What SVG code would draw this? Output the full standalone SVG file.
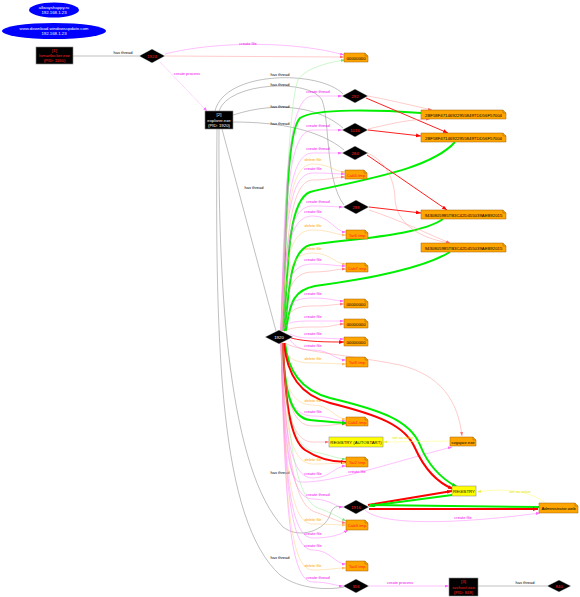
<svg xmlns="http://www.w3.org/2000/svg" width="580" height="597" viewBox="0 0 580 597" font-family="'Liberation Sans', Arial, sans-serif">
<style>
text{font-family:'Liberation Sans',Arial,sans-serif;text-anchor:middle}
.nt{font-size:4.3px}
.el{font-size:4px}
.e{fill:none;stroke-width:0.5}
.hs{stroke:#808080}
.cf{stroke:#ff80ff}
.df{stroke:#ffcc80}
.lr{stroke:#ff9999}
.rd{stroke:#ff0000;stroke-width:2}
.rm{stroke:#ff2020;stroke-width:1}
.gr{stroke:#00ee00;stroke-width:2}
.lg{stroke:#99ee99}
.yl{stroke:#ffff66}
.lhs{fill:#000}
.lcf{fill:#ee00ee}
.ldf{fill:#ffa500}
.lyl{fill:#e6e600}
.file{fill:#ffa500;stroke:#a0600a;stroke-width:0.5}
.fold{fill:none;stroke:#a0600a;stroke-width:0.5}
.reg{fill:#ffff00;stroke:#808080;stroke-width:0.5}
.proc{fill:#000;stroke:#888;stroke-width:0.6}
.thr{fill:#000;stroke:#fff;stroke-width:0.4}
.host{fill:#0000ff}
</style>
<defs>
<marker id="am" viewBox="0 0 4 3" refX="4" refY="1.5" markerWidth="4" markerHeight="3" markerUnits="userSpaceOnUse" orient="auto"><path d="M0,0L4,1.5L0,3z" fill="#ff66ff"/></marker>
<marker id="ao" viewBox="0 0 4 3" refX="4" refY="1.5" markerWidth="4" markerHeight="3" markerUnits="userSpaceOnUse" orient="auto"><path d="M0,0L4,1.5L0,3z" fill="#ffbb66"/></marker>
<marker id="alr" viewBox="0 0 4 3" refX="4" refY="1.5" markerWidth="4" markerHeight="3" markerUnits="userSpaceOnUse" orient="auto"><path d="M0,0L4,1.5L0,3z" fill="#ff7070"/></marker>
<marker id="ar" viewBox="0 0 4 3" refX="4" refY="1.5" markerWidth="5" markerHeight="4" markerUnits="userSpaceOnUse" orient="auto"><path d="M0,0L4,1.5L0,3z" fill="#ff0000"/></marker>
<marker id="ag" viewBox="0 0 4 3" refX="4" refY="1.5" markerWidth="5" markerHeight="4" markerUnits="userSpaceOnUse" orient="auto"><path d="M0,0L4,1.5L0,3z" fill="#00dd00"/></marker>
<marker id="alg" viewBox="0 0 4 3" refX="4" refY="1.5" markerWidth="4" markerHeight="3" markerUnits="userSpaceOnUse" orient="auto"><path d="M0,0L4,1.5L0,3z" fill="#77dd77"/></marker>
<marker id="ay" viewBox="0 0 4 3" refX="4" refY="1.5" markerWidth="4" markerHeight="3" markerUnits="userSpaceOnUse" orient="auto"><path d="M0,0L4,1.5L0,3z" fill="#eeee44"/></marker>
</defs>
<rect width="580" height="597" fill="#fff"/>

<g id="connectors">
<path class="e hs" d="M73,56 L139,56"/>
<text class="el lhs" x="123" y="54">has thread</text>
<path class="e cf" d="M165,54 C220,40 300,42 344,55" marker-end="url(#am)"/>
<text class="el lcf" x="248" y="45">create file</text>
<path class="e lr" d="M165,56 L344,57" marker-end="url(#alr)"/>
<path class="e cf" stroke-dasharray="1,0.6" d="M160,62 L207,111" marker-end="url(#am)"/>
<text class="el lcf" x="187" y="75">create process</text>

<path class="e hs" d="M215,111 C225,70 320,70 343,94"/>
<text class="el lhs" x="280" y="76">has thread</text>
<path class="e hs" d="M219,111 C228,82 310,78 322,100 C330,120 325,180 344,205"/>
<text class="el lhs" x="280" y="86">has thread</text>
<path class="e hs" d="M233,115 C280,100 320,108 343,128"/>
<text class="el lhs" x="280" y="108">has thread</text>
<path class="e hs" d="M233,122 C280,122 320,130 344,150"/>
<text class="el lhs" x="280" y="125">has thread</text>
<path class="e hs" d="M222,129 L276,331"/>
<text class="el lhs" x="254" y="189">has thread</text>
<path class="e hs" d="M219,129 C218,300 230,470 283,527 C300,540 325,530 330,515 C333,505 338,506 343,507"/>
<text class="el lhs" x="280" y="474">has thread</text>
<path class="e hs" d="M217,129 C215,350 220,520 280,575 C300,590 330,590 344,587"/>
<text class="el lhs" x="280" y="559">has thread</text>

<path class="e gr" d="M283,331 C286,200 288,130 300,118 C315,108 380,110 421,113"/>
<path class="e gr" d="M284,331 C288,250 290,200 310,192 C360,180 430,170 455,142"/>
<path class="e gr" d="M285,331 C289,280 292,250 310,245 C360,238 420,235 443,219"/>
<path class="e gr" d="M286,331 C290,300 295,290 315,286 C360,280 420,270 450,252"/>
<path class="e lg" d="M282,331 C285,200 290,100 298,80 C305,68 330,62 345,60" marker-end="url(#alg)"/>

<path class="e cf" d="M281,331 C285,164 290,96 313,96 C330,96 335,96 342,96" marker-end="url(#am)"/>
<text class="el lcf" x="318" y="93">create thread</text>
<path class="e cf" d="M281,331 C285,188 290,130 313,130 C330,130 335,130 342,130" marker-end="url(#am)"/>
<text class="el lcf" x="318" y="127">create thread</text>
<path class="e cf" d="M281,331 C285,204 290,153 313,153 C330,153 335,153 342,153" marker-end="url(#am)"/>
<text class="el lcf" x="318" y="150">create thread</text>
<path class="e df" d="M281,331 C285,212 290,164 313,164 C330,164 335,172 345,172" marker-end="url(#ao)"/>
<text class="el ldf" x="313" y="161">delete file</text>
<path class="e cf" d="M281,331 C285,218 290,173 313,173 C330,173 335,174 345,174" marker-end="url(#am)"/>
<text class="el lcf" x="313" y="170">create file</text>
<path class="e lr" d="M282,331 C286,230 292,180 313,180 C330,180 335,177 345,177" marker-end="url(#alr)"/>
<path class="e cf" d="M281,331 C285,241 290,206 313,206 C330,206 335,207 343,207" marker-end="url(#am)"/>
<text class="el lcf" x="318" y="203">create thread</text>
<path class="e cf" d="M281,331 C285,248 290,216 313,216 C330,216 335,232 346,232" marker-end="url(#am)"/>
<text class="el lcf" x="313" y="213">create file</text>
<path class="e df" d="M281,331 C285,258 290,230 313,230 C330,230 335,235 346,235" marker-end="url(#ao)"/>
<text class="el ldf" x="313" y="227">delete file</text>
<path class="e df" d="M281,331 C285,274 290,253 313,253 C330,253 335,264 346,264" marker-end="url(#ao)"/>
<text class="el ldf" x="313" y="250">delete file</text>
<path class="e cf" d="M281,331 C285,282 290,264 313,264 C330,264 335,266 346,266" marker-end="url(#am)"/>
<text class="el lcf" x="313" y="261">create file</text>
<path class="e lr" d="M282,331 C286,290 292,272 313,272 C330,272 335,269 346,269" marker-end="url(#alr)"/>
<path class="e cf" d="M282,331 C285,306 290,298 313,298 C330,298 335,301 344,301" marker-end="url(#am)"/>
<text class="el lcf" x="313" y="295">create file</text>
<path class="e lr" d="M283,331 C287,312 293,306 313,306 C330,306 335,304 344,304" marker-end="url(#alr)"/>
<path class="e cf" d="M283,331 C286,322 292,321 313,321 C330,321 335,321 344,321" marker-end="url(#am)"/>
<text class="el lcf" x="313" y="318">create file</text>
<path class="e lr" d="M284,332 C290,327 300,327 320,327 C332,327 336,324 344,324" marker-end="url(#alr)"/>
<path class="e cf" d="M290,334 C298,338 305,338 313,338 C330,338 335,339 344,339" marker-end="url(#am)"/>
<text class="el lcf" x="313" y="335">create file</text>
<path class="e rm" d="M291,338 C305,342 330,342 344,342" marker-end="url(#ar)"/>

<path class="e cf" d="M290,340 C298,350 305,350 313,350 C330,350 335,360 346,360" marker-end="url(#am)"/>
<text class="el lcf" x="313" y="347">create file</text>
<path class="e df" d="M282,343 C285,355 290,363 313,363 C330,363 335,364 346,364" marker-end="url(#ao)"/>
<text class="el ldf" x="313" y="360">delete file</text>
<path class="e lr" d="M285,343 C300,352 350,355 400,365 C440,375 458,400 462,436" marker-end="url(#alr)"/>
<path class="e df" d="M281,343 C285,384 290,405 313,405 C330,405 335,419 346,419" marker-end="url(#ao)"/>
<text class="el ldf" x="313" y="402">delete file</text>
<path class="e cf" d="M281,343 C285,392 290,416 313,416 C330,416 335,421 346,421" marker-end="url(#am)"/>
<text class="el lcf" x="313" y="413">create file</text>
<path class="e lr" d="M282,343 C286,400 292,426 313,426 C330,426 335,424 346,424" marker-end="url(#alr)"/>
<path class="e gr" d="M282,343 C285,390 290,418 310,420 C330,422 340,423 347,423" marker-end="url(#ag)"/>
<path class="e lr" d="M282,343 C285,410 292,442 313,442 L329,442" marker-end="url(#alr)"/>
<path class="e lg" d="M283,343 C287,420 295,448 315,452 C330,455 338,459 346,459" marker-end="url(#alg)"/>
<path class="e rd" d="M283,343 C285,400 290,440 305,450 C320,460 335,462 346,462" marker-end="url(#ar)"/>
<path class="e df" d="M281,343 C285,426 290,464 313,464 C330,464 335,463 346,463" marker-end="url(#ao)"/>
<text class="el ldf" x="313" y="461">delete file</text>
<path class="e cf" d="M281,343 C285,435 290,478 313,478 C330,478 335,466 346,466" marker-end="url(#am)"/>
<text class="el lcf" x="313" y="475">create file</text>
<path class="e cf" d="M281,343 C284,440 288,480 300,482 C330,484 400,460 452,447" marker-end="url(#am)"/>
<text class="el lcf" x="357" y="473">create file</text>
<path class="e gr" d="M285,343 C288,370 300,390 330,398 C380,410 410,420 420,445 C428,465 440,478 457,487" marker-end="url(#ag)"/>
<path class="e rd" d="M284,343 C287,375 300,395 330,403 C378,415 405,425 415,448 C424,468 436,482 453,489" marker-end="url(#ar)"/>
<path class="e cf" d="M281,343 C285,450 290,499 313,499 C330,499 335,507 343,507" marker-end="url(#am)"/>
<text class="el lcf" x="318" y="496">create thread</text>
<path class="e df" d="M281,343 C285,468 290,524 313,524 C330,524 335,525 346,525" marker-end="url(#ao)"/>
<text class="el ldf" x="313" y="521">delete file</text>
<path class="e lr" d="M282,343 C286,460 295,505 315,512 C330,517 338,522 346,523" marker-end="url(#alr)"/>
<path class="e lg" d="M283,343 C288,450 298,500 318,508 C332,513 340,518 346,521" marker-end="url(#alg)"/>
<path class="e cf" d="M281,343 C285,477 290,538 313,538 C330,538 340,535 348,530" marker-end="url(#am)"/>
<text class="el lcf" x="313" y="535">create file</text>
<path class="e cf" d="M281,343 C285,486 290,550 313,550 C330,550 335,564 346,564" marker-end="url(#am)"/>
<text class="el lcf" x="313" y="547">create file</text>
<path class="e df" d="M281,343 C285,500 290,570 313,570 C330,570 335,568 346,568" marker-end="url(#ao)"/>
<text class="el ldf" x="313" y="567">delete file</text>
<path class="e cf" d="M281,343 C285,508 290,582 313,582 C330,582 335,586 343,586" marker-end="url(#am)"/>
<text class="el lcf" x="318" y="579">create thread</text>

<path class="e lr" d="M368,96 C390,100 410,105 432,110" marker-end="url(#alr)"/>
<path class="e rm" d="M366,98 L448,133" marker-end="url(#ar)"/>
<path class="e lr" d="M368,129 C390,124 410,119 430,119" marker-end="url(#alr)"/>
<path class="e rm" d="M368,130 L421,136" marker-end="url(#ar)"/>
<path class="e rm" d="M367,155 L447,210" marker-end="url(#ar)"/>
<path class="e lr" d="M367,153 C385,160 395,180 395,200 C398,230 430,240 450,243" marker-end="url(#alr)"/>
<path class="e rm" d="M369,207 L421,213" marker-end="url(#ar)"/>
<path class="e lr" d="M369,210 C400,220 430,235 450,243" marker-end="url(#alr)"/>

<path class="e yl" d="M450,441 L383,442" marker-end="url(#ay)"/>
<text class="el lyl" x="403" y="439">set as value</text>
<path class="e rd" d="M368,505 L452,491" marker-end="url(#ar)"/>
<path class="e gr" d="M452,495 L369,506" marker-end="url(#ag)"/>
<path class="e gr" d="M539,507 L370,505" marker-end="url(#ag)"/>
<path class="e rd" d="M369,509 L538,509" marker-end="url(#ar)"/>
<path class="e cf" d="M365,510 C380,525 450,525 540,513" marker-end="url(#am)"/>
<text class="el lcf" x="463" y="519">create file</text>
<path class="e yl" d="M545,503 C530,490 500,488 477,492" marker-end="url(#ay)"/>
<text class="el lyl" x="520" y="493">set as value</text>
<path class="e cf" d="M369,586 L449,586" marker-end="url(#am)"/>
<text class="el lcf" x="400" y="584">create process</text>
<path class="e hs" d="M478,586 L547,586"/>
<text class="el lhs" x="525" y="584">has thread</text>
</g>

<g id="host1"><ellipse class="host" cx="54" cy="10" rx="25" ry="7.5"/><text class="nt" fill="#fff" x="54" y="9">allwayshappy.ru</text><text class="nt" fill="#fff" x="54" y="14">192.168.1.23</text></g>
<g id="host2"><ellipse class="host" cx="54" cy="31" rx="52" ry="8"/><text class="nt" fill="#fff" x="54" y="30">www.download.windowsupdate.com</text><text class="nt" fill="#fff" x="54" y="35">192.168.1.23</text></g>

<g id="proc1"><rect class="proc" x="36" y="47" width="37" height="17"/><text class="nt" fill="#ff2020" x="54.5" y="52">[1]</text><text class="nt" fill="#ff2020" x="54.5" y="57">lsmartlocker.exe</text><text class="nt" fill="#ff2020" x="54.5" y="62">(PID: 1160)</text></g>
<g id="proc2"><rect class="proc" x="205" y="111" width="28" height="18"/><text class="nt" fill="#fff" x="219" y="116">[2]</text><text class="nt" fill="#fff" x="219" y="121.5">explorer.exe</text><text class="nt" fill="#fff" x="219" y="127">(PID: 1920)</text></g>
<g id="proc3"><rect class="proc" x="449" y="578" width="29" height="18"/><text class="nt" fill="#ff2020" x="463.5" y="583">[3]</text><text class="nt" fill="#ff2020" x="463.5" y="588.5">svchost.exe</text><text class="nt" fill="#ff2020" x="463.5" y="594">(PID: 848)</text></g>

<g id="t1924"><polygon class="thr" points="139,56 152,49 165,56 152,63"/><text class="nt" fill="#ff2020" x="152" y="57.5">1924</text></g>
<g id="t292"><polygon class="thr" points="342,96 355,89 368,96 355,103"/><text class="nt" fill="#ff2020" x="355" y="97.5">292</text></g>
<g id="t1016"><polygon class="thr" points="342,130 355,123 368,130 355,137"/><text class="nt" fill="#ff2020" x="355" y="131.5">1016</text></g>
<g id="t284"><polygon class="thr" points="342,153 355,146 368,153 355,160"/><text class="nt" fill="#ff2020" x="355" y="154.5">284</text></g>
<g id="t288"><polygon class="thr" points="343,207 356,200 369,207 356,214"/><text class="nt" fill="#ff2020" x="356" y="208.5">288</text></g>
<g id="t1920"><polygon class="thr" points="265,337 279,330 293,337 279,344"/><text class="nt" fill="#fff" x="279" y="338.5">1920</text></g>
<g id="t1916"><polygon class="thr" points="343,507 356,500 369,507 356,514"/><text class="nt" fill="#ff2020" x="356" y="508.5">1916</text></g>
<g id="t356"><polygon class="thr" points="343,586 356,579 369,586 356,593"/><text class="nt" fill="#ff2020" x="356" y="587.5">356</text></g>
<g id="t840"><polygon class="thr" points="547,586 559,580 571,586 559,592"/><text class="nt" fill="#ff2020" x="559" y="587.5">840</text></g>

<g id="f0"><path class="file" d="M344,53H365L368,56V62H344Z"/><path class="fold" d="M365,53V56H368"/><text class="nt" x="356" y="59.5">00000000</text></g>
<g id="f2bf1"><path class="file" d="M421,110H503L506,113V119H421Z"/><path class="fold" d="M503,110V113H506"/><text class="nt" x="463.5" y="116.5">2BF58F47146922955849TDD56F57004</text></g>
<g id="f2bf2"><path class="file" d="M421,133H503L506,136V142H421Z"/><path class="fold" d="M503,133V136H506"/><text class="nt" x="463.5" y="139.5">2BF58F47146922955849TDD56F57004</text></g>
<g id="fcab5"><path class="file" d="M345,170H364L367,173V179H345Z"/><path class="fold" d="M364,170V173H367"/><text class="nt" fill="#ff2020" x="356" y="176.5">Cab5.tmp</text></g>
<g id="f9431"><path class="file" d="M421,210H503L506,213V219H421Z"/><path class="fold" d="M503,210V213H506"/><text class="nt" x="463.5" y="216.5">9430805985TB3C42D455039AEB92015</text></g>
<g id="ftar6"><path class="file" d="M346,230H365L368,233V239H346Z"/><path class="fold" d="M365,230V233H368"/><text class="nt" fill="#ff2020" x="357" y="236.5">Tar6.tmp</text></g>
<g id="f9432"><path class="file" d="M421,243H503L506,246V252H421Z"/><path class="fold" d="M503,243V246H506"/><text class="nt" x="463.5" y="249.5">9430805985TB3C42D455039AEB92015</text></g>
<g id="fcab7"><path class="file" d="M346,263H365L368,266V272H346Z"/><path class="fold" d="M365,263V266H368"/><text class="nt" fill="#ff2020" x="357" y="269.5">Cab7.tmp</text></g>
<g id="f0a"><path class="file" d="M344,299H365L368,302V308H344Z"/><path class="fold" d="M365,299V302H368"/><text class="nt" x="356" y="305.5">00000000</text></g>
<g id="f0b"><path class="file" d="M344,319H365L368,322V328H344Z"/><path class="fold" d="M365,319V322H368"/><text class="nt" x="356" y="325.5">00000000</text></g>
<g id="f0c"><path class="file" d="M344,337H365L368,340V346H344Z"/><path class="fold" d="M365,337V340H368"/><text class="nt" x="356" y="343.5">00000000</text></g>
<g id="ftar8"><path class="file" d="M346,357H365L368,360V367H346Z"/><path class="fold" d="M365,357V360H368"/><text class="nt" fill="#ff2020" x="357" y="364">Tar8.tmp</text></g>
<g id="fcab1"><path class="file" d="M346,417H365L368,420V426H346Z"/><path class="fold" d="M365,417V420H368"/><text class="nt" fill="#ff2020" x="357" y="423.5">Cab1.tmp</text></g>
<g id="regauto"><rect class="reg" x="329" y="437" width="54" height="10"/><text class="nt" x="356" y="444">REGISTRY (AUTOSTART)</text></g>
<g id="fsvg"><path class="file" d="M450,437H473L476,440V446H450Z"/><path class="fold" d="M473,437V440H476"/><text class="nt" x="463" y="443.5">svgajwz.exe</text></g>
<g id="ftar2"><path class="file" d="M346,457H365L368,460V467H346Z"/><path class="fold" d="M365,457V460H368"/><text class="nt" fill="#ff2020" x="357" y="464">Tar2.tmp</text></g>
<g id="reg"><rect class="reg" x="452" y="486" width="24" height="10"/><text class="nt" x="464" y="493">REGISTRY</text></g>
<g id="fadmin"><path class="file" d="M539,503H575L578,506V513H539Z"/><path class="fold" d="M575,503V506H578"/><text class="nt" x="558.5" y="510">Administrator.web</text></g>
<g id="fcab3"><path class="file" d="M346,520H365L368,523V530H346Z"/><path class="fold" d="M365,520V523H368"/><text class="nt" fill="#ff2020" x="357" y="527">Cab3.tmp</text></g>
<g id="ftar4"><path class="file" d="M346,561H365L368,564V571H346Z"/><path class="fold" d="M365,561V564H368"/><text class="nt" fill="#ff2020" x="357" y="568">Tar4.tmp</text></g>
</svg>
